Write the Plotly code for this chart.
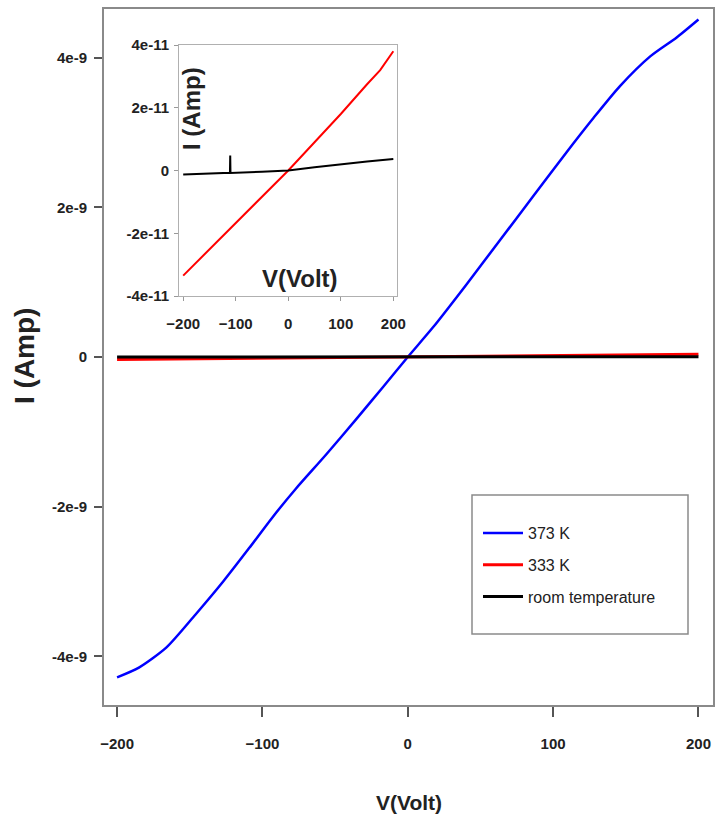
import plotly.graph_objects as go

# ---- data ----
V_373 = [-200, -185, -166, -146, -127, -109, -93, -77, -56, -35, -17, 0,
         17.5, 40, 63, 86, 109, 128, 146, 167, 185, 200]
I_373 = [-4.28e-9, -4.15e-9, -3.88e-9, -3.44e-9, -3.0e-9, -2.55e-9, -2.14e-9,
         -1.76e-9, -1.3e-9, -0.82e-9, -0.4e-9, 0.0, 0.4e-9, 0.96e-9,
         1.55e-9, 2.14e-9, 2.73e-9, 3.2e-9, 3.62e-9, 4.02e-9, 4.27e-9, 4.51e-9]

V_333 = [-200, -150, -100, -50, 0, 50, 100, 150, 175, 200]
I_333 = [-3.35e-11, -2.52e-11, -1.68e-11, -0.84e-11, 0.0, 0.9e-11,
         1.8e-11, 2.75e-11, 3.2e-11, 3.8e-11]

V_room = [-200, -150, -111, -110.5, -110, -50, 0, 50, 100, 150, 200]
I_room = [-0.13e-11, -0.1e-11, -0.07e-11, 0.48e-11, -0.08e-11, -0.04e-11,
          0.0, 0.1e-11, 0.2e-11, 0.29e-11, 0.37e-11]

names = ["373 K", "333 K", "room temperature"]
colors = ["#0000ff", "#ff0000", "#000000"]

x_ticks = [-200, -100, 0, 100, 200]
main_y_ticks = [-4e-9, -2e-9, 0, 2e-9, 4e-9]
main_y_text = ["-4e-9", "-2e-9", "0", "2e-9", "4e-9"]
inset_y_ticks = [-4e-11, -2e-11, 0, 2e-11, 4e-11]
inset_y_text = ["-4e-11", "-2e-11", "0", "2e-11", "4e-11"]

FONT = "Liberation Sans, Arial, sans-serif"

fig = go.Figure()

# main traces
fig.add_trace(go.Scatter(x=V_373, y=I_373, mode="lines", name=names[0],
                         line=dict(color=colors[0], width=2.5, shape="spline", smoothing=0.7),
                         legendgroup="a"))
fig.add_trace(go.Scatter(x=V_333, y=I_333, mode="lines", name=names[1],
                         line=dict(color=colors[1], width=3), legendgroup="b"))
fig.add_trace(go.Scatter(x=V_room, y=I_room, mode="lines", name=names[2],
                         line=dict(color=colors[2], width=3), legendgroup="c"))

# inset traces
fig.add_trace(go.Scatter(x=V_333, y=I_333, mode="lines", showlegend=False,
                         line=dict(color=colors[1], width=2), xaxis="x2", yaxis="y2"))
fig.add_trace(go.Scatter(x=V_room, y=I_room, mode="lines", showlegend=False,
                         line=dict(color=colors[2], width=2), xaxis="x2", yaxis="y2"))

L, R, T, B = 104, 2, 9, 117
W, H = 715, 822
pw, ph = W - L - R, H - T - B


def px(xp):
    return (xp - L) / pw


def py(yp):
    return (H - B - yp) / ph


axis_common = dict(showgrid=False, zeroline=False, showline=True,
                   linecolor="#8a8a8a", mirror=True, ticks="outside",
                   tickcolor="#555555", automargin=False)

anno_common = dict(xref="paper", yref="paper", showarrow=False,
                   xanchor="center", yanchor="middle")

fig.update_layout(
    width=W, height=H,
    margin=dict(l=L, r=R, t=T, b=B, autoexpand=False),
    paper_bgcolor="white", plot_bgcolor="white",
    font=dict(family=FONT, color="#222222"),
    xaxis=dict(range=[-209, 210], tickvals=x_ticks, ticklen=10, linewidth=2,
               tickwidth=1.5, ticklabelstandoff=14,
               tickfont=dict(size=15, weight="bold", family=FONT), **axis_common),
    yaxis=dict(range=[-4.65e-9, 4.65e-9], tickvals=main_y_ticks,
               ticktext=main_y_text, ticklen=8, linewidth=2, tickwidth=1.5,
               ticklabelstandoff=4,
               tickfont=dict(size=15, weight="bold", family=FONT), **axis_common),
    xaxis2=dict(domain=[px(179), px(397)], anchor="y2", range=[-208, 207],
                tickvals=x_ticks, ticklen=4, linewidth=1, tickwidth=1,
                ticklabelstandoff=10,
                tickfont=dict(size=15, weight="bold", family=FONT),
                **{**axis_common, "linecolor": "#b0b0b0", "tickcolor": "#999999"}),
    yaxis2=dict(domain=[py(296), py(45)], anchor="x2", range=[-4e-11, 4e-11],
                tickvals=inset_y_ticks, ticktext=inset_y_text, ticklen=4,
                linewidth=1, tickwidth=1, ticklabelstandoff=2,
                tickfont=dict(size=15, weight="bold", family=FONT),
                **{**axis_common, "linecolor": "#b0b0b0", "tickcolor": "#999999"}),
    legend=dict(x=px(478), y=py(516), xanchor="left", yanchor="top",
                bgcolor="rgba(0,0,0,0)", borderwidth=0, itemwidth=40,
                font=dict(size=16, family=FONT, color="#222222"),
                tracegroupgap=8, traceorder="grouped"),
    shapes=[dict(type="rect", xref="paper", yref="paper",
                 x0=px(472), x1=px(688), y0=py(634), y1=py(495),
                 line=dict(color="#8a8a8a", width=1.5), fillcolor="rgba(0,0,0,0)")],
    annotations=[
        dict(text="<b>I (Amp)</b>", x=px(24), y=py(356), textangle=-90,
             font=dict(size=28, family=FONT, color="#222222"), **anno_common),
        dict(text="<b>V(Volt)</b>", x=px(409), y=py(802),
             font=dict(size=21, family=FONT, color="#222222"), **anno_common),
        dict(text="<b>I (Amp)</b>", x=px(191), y=py(109), textangle=-90,
             font=dict(size=24, family=FONT, color="#222222"), **anno_common),
        dict(text="<b>V(Volt)</b>", x=px(300), y=py(278),
             font=dict(size=24, family=FONT, color="#222222"), **anno_common),
    ],
)

fig.write_html("out.html")
